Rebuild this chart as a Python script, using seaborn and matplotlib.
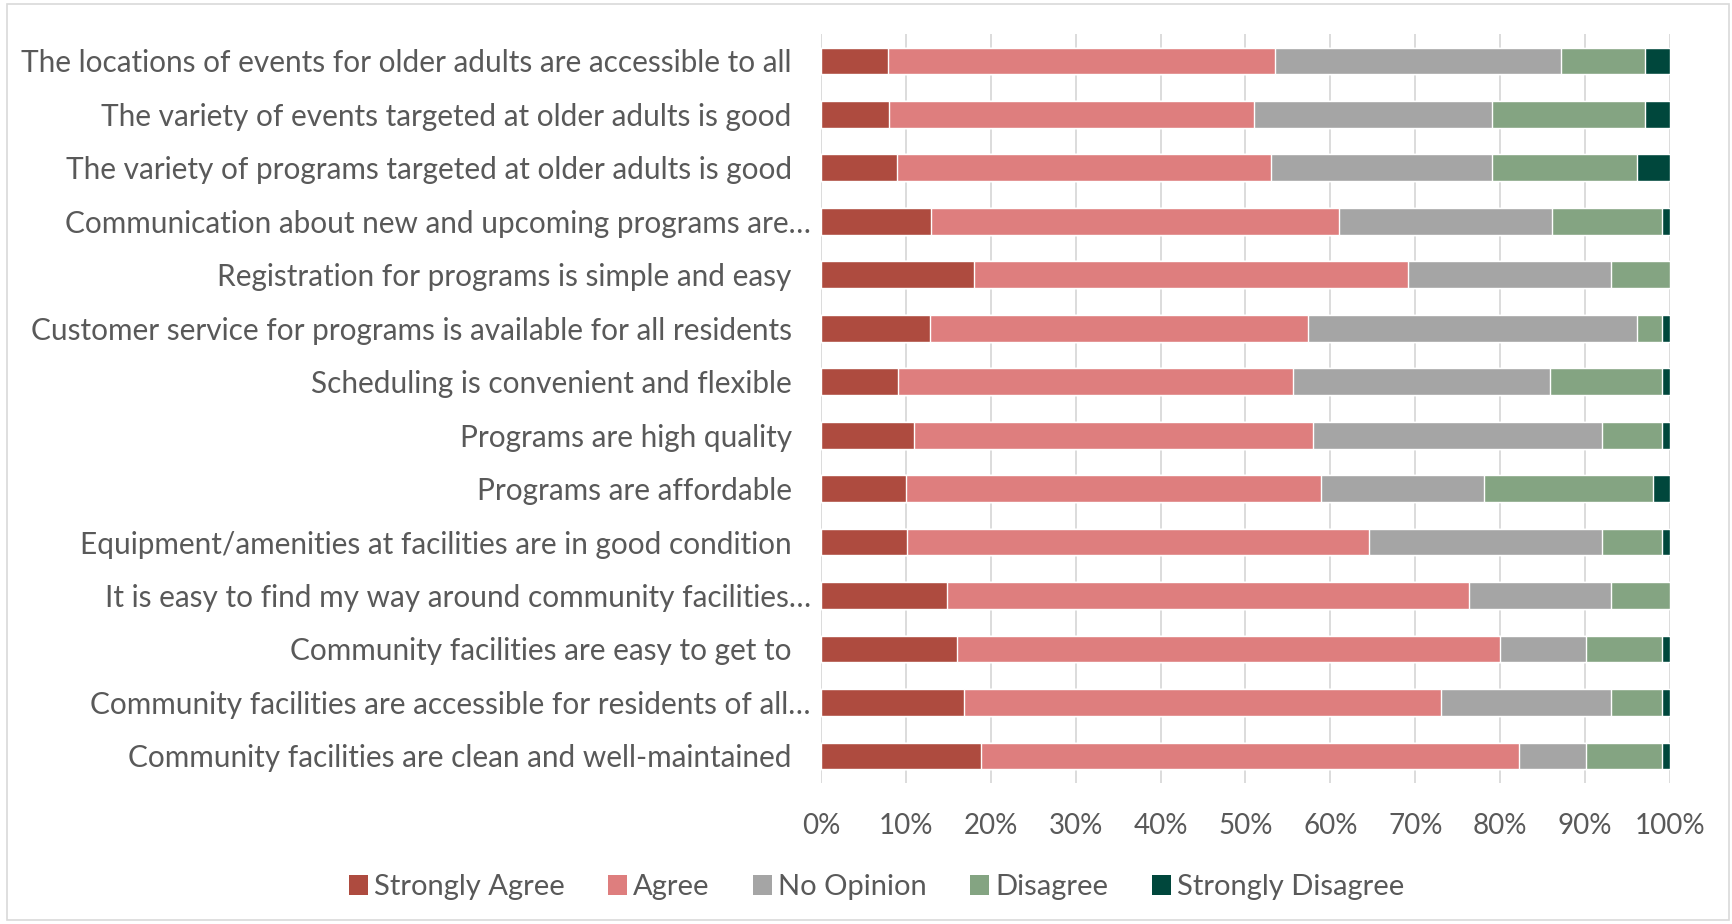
"""Stacked agreement bars for the older-adult programs survey."""
import matplotlib

matplotlib.use("Agg")
import matplotlib.pyplot as plt
import matplotlib.transforms as mtransforms
import pandas as pd
import seaborn as sns
from matplotlib.patches import Patch, Rectangle
from matplotlib.ticker import FuncFormatter, MultipleLocator

statements = [
    "The locations of events for older adults are accessible to all",
    "The variety of events targeted at older adults is good",
    "The variety of programs targeted at older adults is good",
    "Communication about new and upcoming programs are…",
    "Registration for programs is simple and easy",
    "Customer service for programs is available for all residents",
    "Scheduling is convenient and flexible",
    "Programs are high quality",
    "Programs are affordable",
    "Equipment/amenities at facilities are in good condition",
    "It is easy to find my way around community facilities…",
    "Community facilities are easy to get to",
    "Community facilities are accessible for residents of all…",
    "Community facilities are clean and well-maintained",
]

strongly_agree = [7.9, 8.0, 9.0, 13.0, 18.0, 12.8, 9.1, 11.0, 10.0, 10.1, 14.8, 16.0, 16.9, 18.8]
agree = [45.6, 43.0, 44.0, 48.0, 51.1, 44.6, 46.5, 47.0, 48.9, 54.5, 61.5, 64.0, 56.1, 63.4]
no_opinion = [33.7, 28.0, 26.0, 25.1, 24.0, 38.7, 30.3, 34.0, 19.2, 27.4, 16.8, 10.1, 20.1, 7.9]
disagree = [9.9, 18.0, 17.1, 13.0, 6.9, 3.0, 13.2, 7.1, 19.9, 7.1, 6.9, 9.0, 6.0, 9.0]
strongly_disagree = [2.9, 3.0, 3.9, 0.9, 0.0, 0.9, 0.9, 0.9, 2.0, 0.9, 0.0, 0.9, 0.9, 0.9]

responses = ["Strongly Agree", "Agree", "No Opinion", "Disagree", "Strongly Disagree"]
colors = ["#AE4B3F", "#DE7E7E", "#A5A5A5", "#84A482", "#00473C"]

df = pd.DataFrame(
    {
        "statement": statements,
        "Strongly Agree": strongly_agree,
        "Agree": agree,
        "No Opinion": no_opinion,
        "Disagree": disagree,
        "Strongly Disagree": strongly_disagree,
    }
)
cum = df[responses].cumsum(axis=1)
cum["statement"] = df["statement"]

sns.set_theme(style="white")
plt.rcParams["font.family"] = ["Lato", "DejaVu Sans"]
text_color = "#595959"

fig = plt.figure(figsize=(17.32, 9.24), dpi=100)
ax = fig.add_axes([0.474, 0.153, 0.4902, 0.81])

# stack by drawing cumulative totals from the outermost segment inwards
for resp, col in reversed(list(zip(responses, colors))):
    sns.barplot(data=cum, x=resp, y="statement", orient="h", color=col,
                width=0.5, ax=ax, order=statements, saturation=1, zorder=3)

ax.set_xlim(0, 100)
ax.xaxis.set_major_locator(MultipleLocator(10))
ax.xaxis.set_major_formatter(FuncFormatter(lambda v, _: f"{v:.0f}%"))
ax.grid(axis="x", color="#D9D9D9", linewidth=1.3, zorder=0)
ax.set_axisbelow(True)
ax.set_xlabel("")
ax.set_ylabel("")
for side in ["top", "right", "bottom", "left"]:
    ax.spines[side].set_visible(False)
ax.tick_params(axis="x", length=0, pad=22, labelsize=20, labelcolor=text_color)
ax.tick_params(axis="y", length=0, pad=21, labelsize=21.4, labelcolor=text_color)

# truncated labels sit a little closer to the axis, like Excel does
shift = mtransforms.ScaledTranslation(19 / 100, 0, fig.dpi_scale_trans)
for lbl in ax.get_yticklabels():
    if lbl.get_text().endswith("…"):
        lbl.set_transform(lbl.get_transform() + shift)

handles = [Patch(facecolor=c, edgecolor="none") for c in colors]
fig.legend(handles, responses, loc="center", bbox_to_anchor=(0.506, 0.04), ncol=5,
           frameon=False, fontsize=21, labelcolor=text_color, handlelength=0.65,
           handleheight=0.65, handletextpad=0.2, columnspacing=1.5)

fig.patches.append(Rectangle((0.004, 0.004), 0.994, 0.992, transform=fig.transFigure,
                             fill=False, edgecolor="#D9D9D9", linewidth=1.2))

fig.savefig("out.png", dpi=100)
